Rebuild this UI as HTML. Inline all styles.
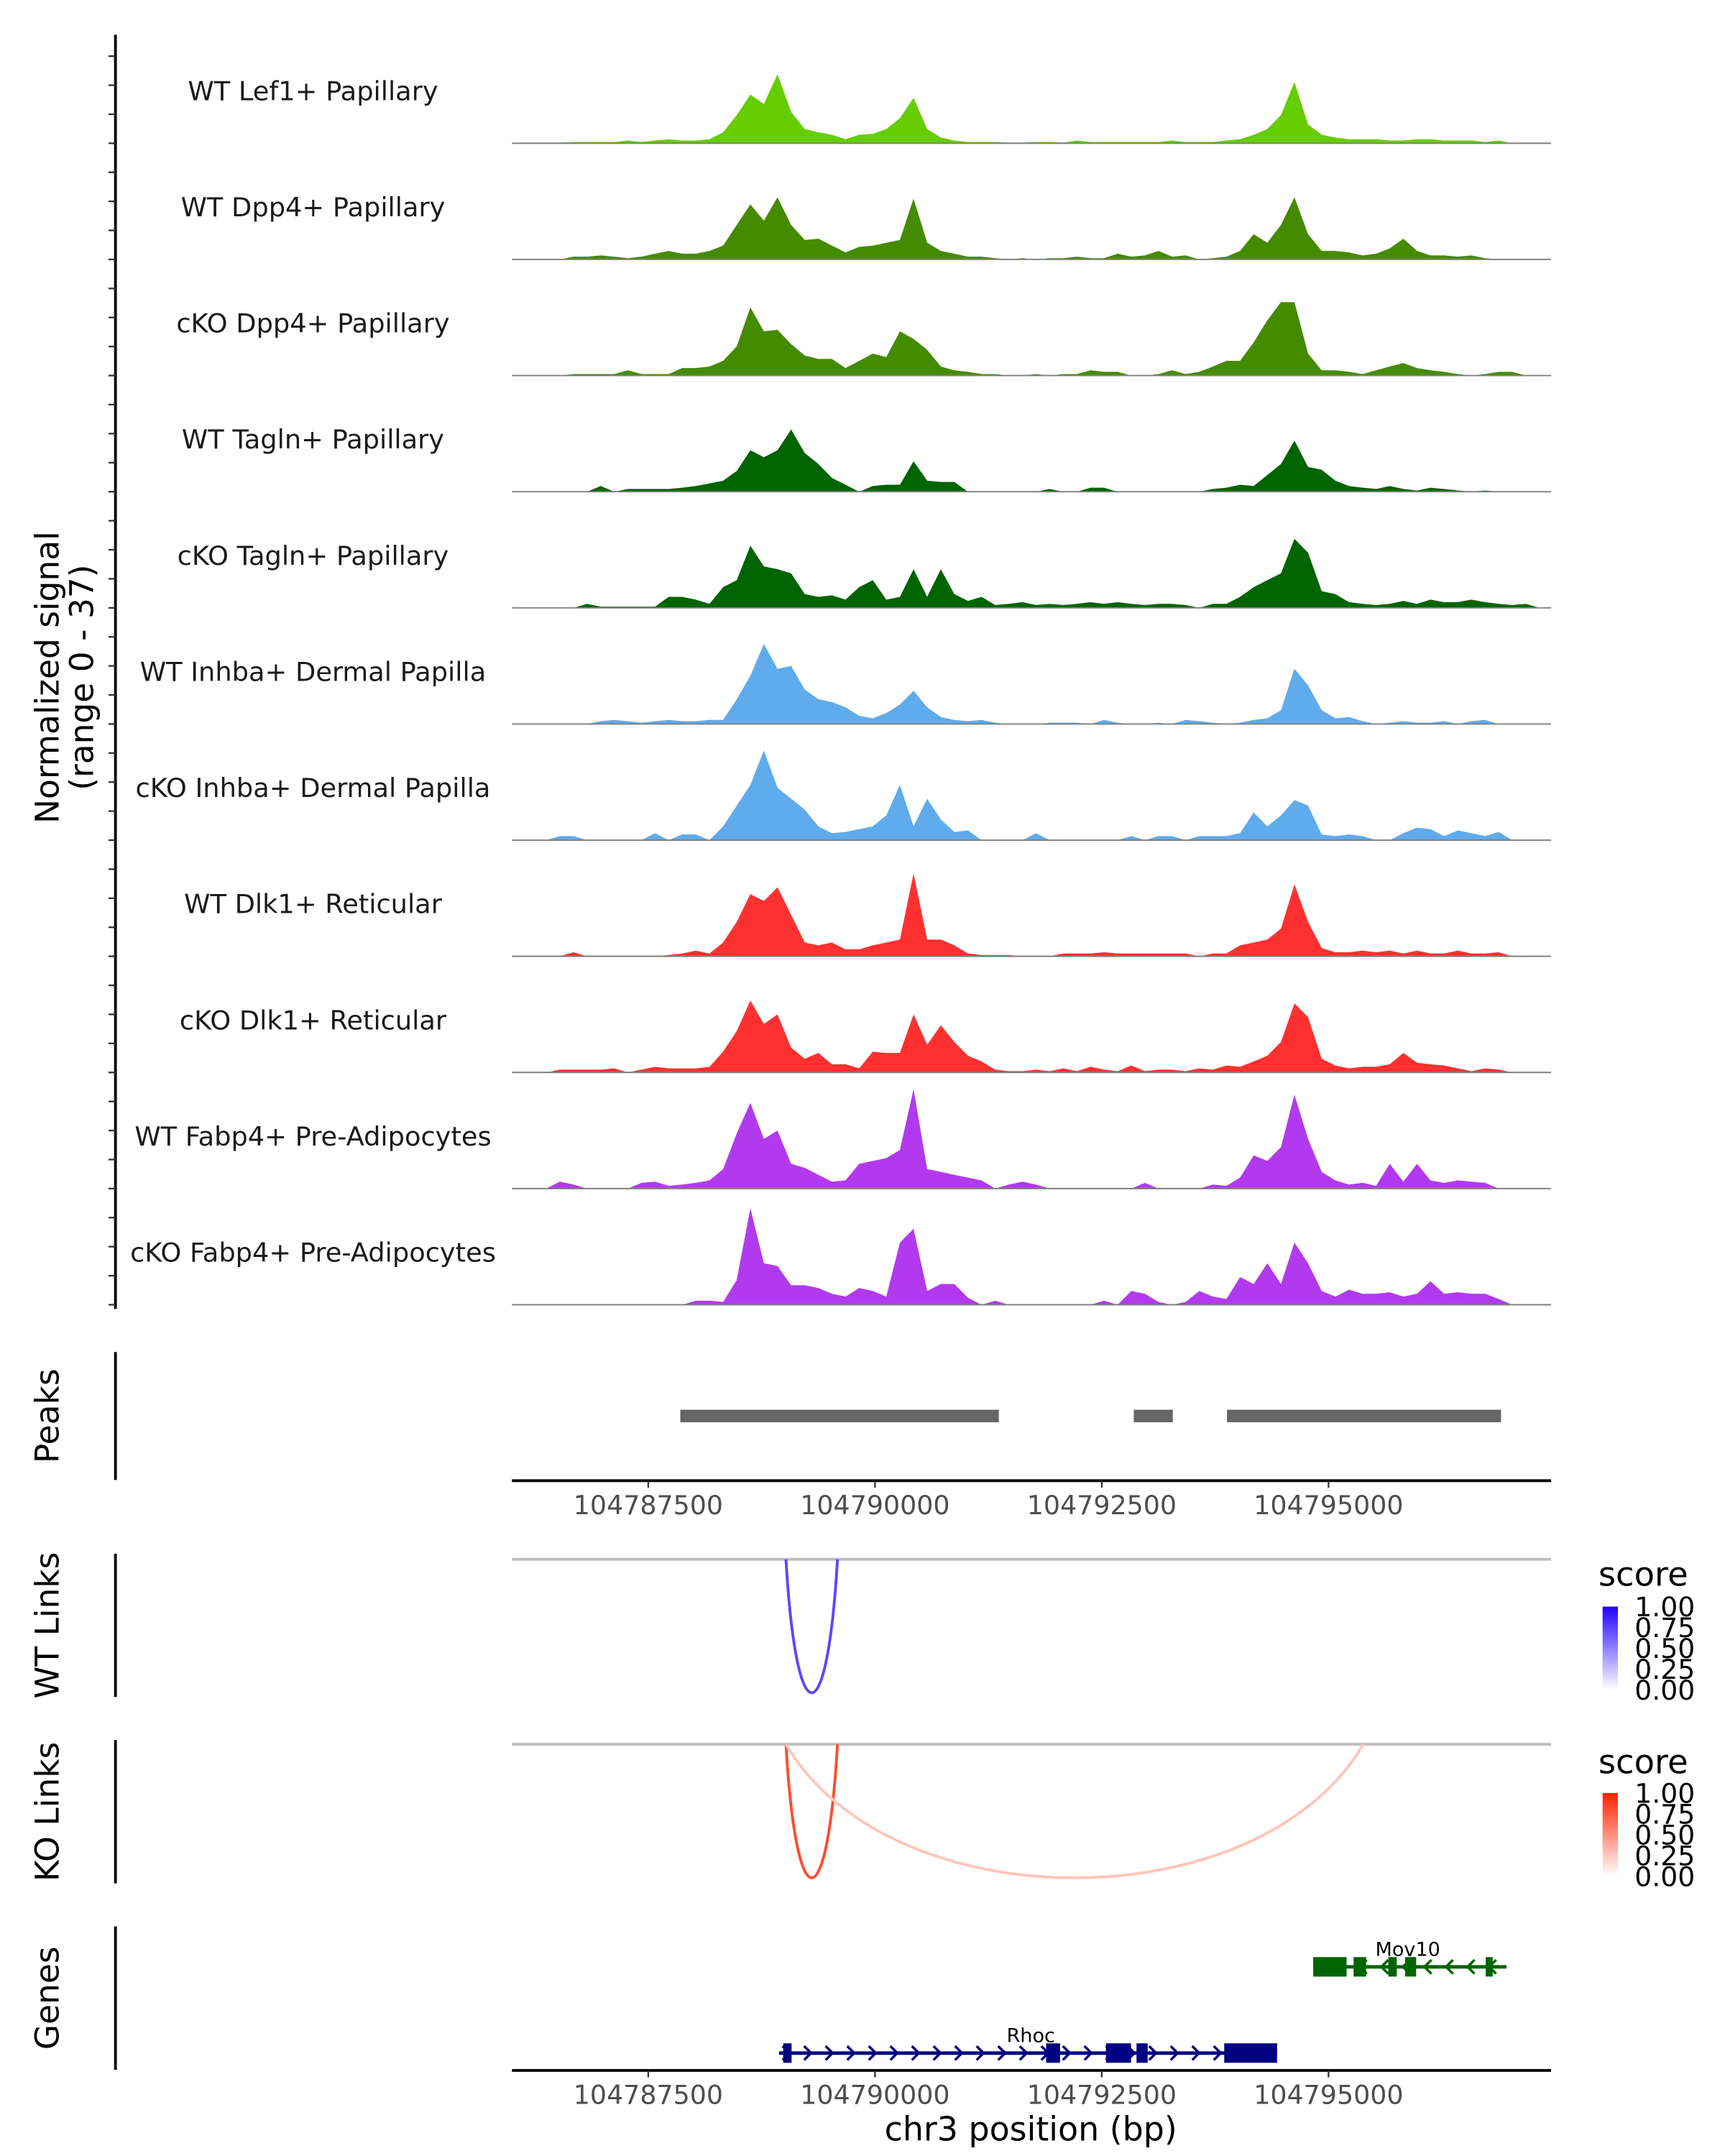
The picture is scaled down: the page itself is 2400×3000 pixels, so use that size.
<!DOCTYPE html>
<html><head><meta charset="utf-8">
<style>
html,body{margin:0;padding:0;background:#fff;}
svg{display:block;font-family:"DejaVu Sans","Liberation Sans",sans-serif;}
</style></head>
<body>
<svg id="chart" xmlns="http://www.w3.org/2000/svg" width="2400" height="3000" viewBox="0 0 1240 1550">
<rect width="1240" height="1550" fill="#fff"/>
</svg>
<script>
// ---- data ----
const binStart = 104786000;
const binSize = 150;
const trackNames = ["WT Lef1+ Papillary","WT Dpp4+ Papillary","cKO Dpp4+ Papillary","WT Tagln+ Papillary","cKO Tagln+ Papillary","WT Inhba+ Dermal Papilla","cKO Inhba+ Dermal Papilla","WT Dlk1+ Reticular","cKO Dlk1+ Reticular","WT Fabp4+ Pre-Adipocytes","cKO Fabp4+ Pre-Adipocytes"];
const trackColors = ["#66cd00","#458b00","#458b00","#006400","#006400","#5fabec","#5fabec","#ff3030","#ff3030","#b23aee","#b23aee"];
const sigWTLef1 = [0,0,0,0.2,0.4,0.4,0.4,0.4,0.9,0.4,0.9,1.3,0.9,0.9,1.3,3.5,9,15.5,12.5,22,10,4.5,3.5,2.7,1.3,2.7,3,4.5,8,14.5,4.5,1.8,0.9,0.4,0.4,0.4,0.2,0.2,0.4,0.4,0.2,0.9,0.4,0.4,0.4,0.4,0.4,0.4,0.9,0.4,0.4,0.4,0.9,1.3,2.7,4.5,9,19.5,6,2.7,1.8,1.3,1.3,1.3,0.9,0.9,1.3,1.3,0.9,0.9,0.9,0.4,0.9,0,0,0];
const sigWTDpp4 = [0,0,0,0,0.9,0.9,1.3,0.9,0.4,0.9,1.8,2.7,1.8,1.8,2.7,4.4,11,17.5,12.3,19.8,11,6.2,6.6,4.4,2.2,4,4.4,5.3,6.2,19.4,5.3,2.7,1.8,0.9,0.9,0.4,0,0.4,0,0.4,0.4,0.9,0.4,0.4,1.8,0.9,1.3,2.7,0.9,1.3,0,0.4,0.9,2.7,8,5.3,11,19.8,8,2.7,2.7,2.2,1.3,1.8,3.5,6.6,2.7,1.3,1.3,0.9,1.3,0.4,0,0,0,0];
const sigKODpp4 = [0,0,0,0,0.5,0.5,0.5,0.5,1.7,0.5,0.5,0.5,2.4,2.4,2.9,4.7,9.3,21.7,14.1,14.6,10,6.4,5.3,5.3,2.4,4.7,7,5.9,14.1,11.7,8.2,2.9,1.7,1.2,0.5,0.5,0,0,0.5,0,0.5,0.5,1.7,1.2,1.2,0,0,0.5,1.7,0.5,1.2,2.9,4.7,4.7,10.6,17.6,23.4,23.4,7,1.7,1.7,1.2,0.5,1.7,2.9,4,2.4,1.7,1.2,0.5,0,0.5,1.2,1.2,0,0];
const sigWTTagln = [0,0,0,0,0,0,1.8,0,0.9,0.9,0.9,0.9,1.3,1.8,2.6,3.5,6.6,13.2,11,13.2,19.8,12.3,8.8,4.4,2.2,0,1.8,2.2,2.2,9.7,3.5,3.1,3.1,0,0,0,0,0,0,0.9,0,0,1.3,1.3,0,0,0,0,0,0,0,0.9,1.3,2.2,1.8,5.3,8.8,16.3,7.9,7,3.5,1.8,1.3,0.9,1.8,0.9,0.4,1.3,0.9,0.4,0,0.4,0,0,0,0];
const sigKOTagln = [0,0,0,0,0,1.3,0.4,0.4,0.4,0.4,0.4,3.5,3.5,2.6,1.3,6.6,8.8,19.8,13.2,12.3,11,4.4,3.5,4,2.6,6.6,8.8,2.6,3.5,12.3,3.5,12.3,4.4,2.2,3.5,0.9,1.3,1.8,0.9,1.3,0.9,1.3,1.8,1.3,1.8,1.3,0.9,1.3,1.3,0.9,0,1.3,1.3,3.5,6.6,8.8,11,22,17.6,5.3,4.4,1.8,1.3,0.9,1.3,2.2,1.3,2.6,1.8,1.8,2.6,1.8,1.3,0.9,1.3,0];
const sigWTInhba = [0,0,0,0,0,0,0.9,1.3,0.9,0.4,0.9,1.3,0.9,0.9,1.3,1.3,7.9,15.4,25.5,17.6,18.5,11,7.9,7,5.3,2.6,1.8,3.5,6.2,10.6,5.3,2.2,1.3,0.9,1.3,0.4,0,0,0,0.4,0.4,0.4,0,1.3,0.4,0,0,0.4,0,1.3,0.9,0.4,0,0.4,1.3,1.8,4.4,17.6,12.3,4.4,1.8,2.2,0.9,0,0.4,0.9,0.4,0.4,0.9,0,0.9,1.3,0,0,0,0];
const sigKOInhba = [0,0,0,1.3,1.3,0,0,0,0,0,2.2,0,1.8,1.8,0,4.4,11,17.6,28.6,16.7,13.2,9.7,4.4,2.2,2.6,3.5,4.4,7.9,17.6,4.4,13.2,6.6,2.6,3.1,0,0,0,0,2.2,0,0,0,0,0,0,1.3,0,1.3,1.3,0,1.3,1.3,1.3,2.2,8.8,4.4,7.9,12.8,11,1.8,1.3,1.8,1.3,0,0,2.2,4,3.5,1.3,3.1,2.2,1.3,2.6,0,0,0];
const sigWTDlk1 = [0,0,0,0,1.3,0,0,0,0,0,0,0.4,0.9,1.8,0.9,4.4,11,19.8,17.6,22,13.2,4.4,3.5,4.4,2.2,2.2,3.5,4.4,5.3,26.4,5.3,5.3,3.5,0.9,0.4,0.4,0.4,0,0,0,0.9,0.9,0.9,1.3,0.9,0.9,0.9,0.9,0.9,0.9,0,0.9,0.9,3.5,4.4,5.3,8.8,22.9,11,2.6,1.3,1.3,1.8,1.3,1.8,0.9,1.8,0.9,0.9,1.8,0.9,0.9,1.3,0,0,0];
const sigKODlk1 = [0,0,0,0.9,0.9,0.9,0.9,1.3,0,0.9,1.8,1.3,1.3,1.3,1.8,6.6,13.2,22.9,15.4,18.5,7.9,4.4,6.2,2.6,2.6,1.3,6.6,6.2,6.2,18.5,8.8,15,9.7,5.3,3.5,0.9,0.4,0.4,0.9,0.4,1.3,0.4,1.8,0.9,0.4,2.2,0.4,0.9,0.9,0.4,1.3,0.9,2.2,1.8,3.5,5.3,9.7,22,17.6,4.4,2.2,1.3,1.8,1.8,2.6,6.2,3.1,2.6,2.2,1.3,0.4,1.3,0.9,0,0,0];
const sigWTFabp4 = [0,0,0,2.2,1.3,0,0,0,0,1.8,2.2,0.9,1.3,1.8,2.6,6.2,17.6,27.3,15.8,18.5,7.9,6.6,4.4,2.2,2.6,7.9,8.8,9.7,12.3,31.7,6.2,5.3,4.4,3.5,2.6,0,1.3,2.2,1.3,0,0,0,0,0,0,0,1.8,0,0,0,0,1.3,0.9,3.5,10.6,8.8,13.2,29.9,15.8,5.3,2.6,1.3,1.8,0.9,7.9,2.2,7.9,2.6,1.8,2.6,2.2,1.8,0,0,0,0];
const sigKOFabp4 = [0,0,0,0,0,0,0,0,0,0,0,0,0,1.3,1.3,0.9,7.9,30.8,13.2,12.3,6.2,6.2,5.3,3.5,2.6,5.3,4.4,2.6,19.8,24.2,4.4,6.6,6.6,2.2,0,1.3,0,0,0,0,0,0,0,1.3,0,4.4,3.5,0.9,0,0.9,4.4,2.6,1.8,8.8,6.6,13.2,6.6,19.8,13.2,4.4,2.6,4.8,3.5,3.5,4,2.6,3.5,7.5,3.5,4,3.5,3.5,1.8,0,0,0];
const signals = [sigWTLef1,sigWTDpp4,sigKODpp4,sigWTTagln,sigKOTagln,sigWTInhba,sigKOInhba,sigWTDlk1,sigKODlk1,sigWTFabp4,sigKOFabp4];
const signalMax = 37;
const xTicks = [104787500,104790000,104792500,104795000];
const peakStarts = [104787853,104792853,104793880];
const peakEnds = [104791365,104793283,104796902];
const wtLinkStarts = [104789018];
const wtLinkEnds = [104789586];
const wtLinkScores = [0.8];
const koLinkStarts = [104789018,104789018];
const koLinkEnds = [104789586,104795383];
const koLinkScores = [0.8,0.2];
const legendTicks = ["1.00","0.75","0.50","0.25","0.00"];
const rhocExonStarts = [104788988,104791887,104792546,104792883,104793850];
const rhocExonEnds = [104789080,104792040,104792822,104793006,104794433];
const mov10ExonStarts = [104794831,104795276,104795659,104795844,104796733];
const mov10ExonEnds = [104795199,104795414,104795752,104795966,104796810];

// ---- helpers ----
const svg = document.getElementById('chart');
const NS = 'http://www.w3.org/2000/svg';
function mk(tag, attrs, parent){const e=document.createElementNS(NS,tag);for(const k in attrs)e.setAttribute(k,attrs[k]);(parent||svg).appendChild(e);return e;}
const X0=368, X1=1115;
function xs(p){return 466+(p-104787500)*163/2500;}
const trackH=83.5, firstBase=103;
function ys(v,base){return base - v/signalMax*trackH;}

// ---- y axis for tracks ----
let ax=mk('line',{x1:83,y1:25,x2:83,y2:941,stroke:'#000','stroke-width':2});


for(let t=0;t<11;t++){
  const base=firstBase+t*trackH;
  for(let k=0;k<4;k++){
    const y=base-k*trackH/4;
    const tk=mk('line',{x1:78,y1:y,x2:83,y2:y,stroke:'#333','stroke-width':1.2});
    
    
  }
}
let yt=mk('text',{transform:'translate(42,487) rotate(-90)','text-anchor':'middle','font-size':23.5,fill:'#000'});


yt.textContent='Normalized signal';
let yt2=mk('text',{transform:'translate(67,487) rotate(-90)','text-anchor':'middle','font-size':23.5,fill:'#000'});


yt2.textContent='(range 0 - 37)';

// ---- tracks ----
for(let t=0;t<11;t++){
  const base=firstBase+t*trackH;
  const vals=signals[t];
  let d='M'+xs(binStart)+','+base;
  for(let i=0;i<vals.length;i++){
    d+=' L'+xs(binStart+binSize*(i+0.5)).toFixed(1)+','+ys(vals[i],base).toFixed(1);
  }
  d+=' L'+xs(binStart+binSize*vals.length).toFixed(1)+','+base+' Z';
  const p=mk('path',{d:d,fill:trackColors[t]});
  
  
  const bl=mk('line',{x1:X0,y1:base,x2:X1,y2:base,stroke:'#808080','stroke-width':1});
  
  
  const lb=mk('text',{x:225,y:base-31,'text-anchor':'middle','font-size':19,fill:'#1a1a1a'});
  
  
  lb.textContent=trackNames[t];
}

// ---- panel titles and axis lines ----
function panel(title,y1,y2,name){
  const l=mk('line',{x1:83,y1:y1,x2:83,y2:y2,stroke:'#000','stroke-width':2});
  
  
  const tx=mk('text',{transform:'translate(42,'+((y1+y2)/2)+') rotate(-90)','text-anchor':'middle','font-size':23.5,fill:'#000'});
  
  
  tx.textContent=title;
}
panel('Peaks',972,1064,'peaks');
panel('WT Links',1117,1220,'wt-links');
panel('KO Links',1251,1354,'ko-links');
panel('Genes',1385,1488,'genes');

// ---- peaks ----
for(let i=0;i<peakStarts.length;i++){
  const r=mk('rect',{x:xs(peakStarts[i]),y:1013.5,width:xs(peakEnds[i])-xs(peakStarts[i]),height:9,fill:'#666666'});
  
  
}
function xAxis(y,name){
  const l=mk('line',{x1:X0,y1:y,x2:X1,y2:y,stroke:'#000','stroke-width':2});
  
  
  for(const t of xTicks){
    const tk=mk('line',{x1:xs(t),y1:y,x2:xs(t),y2:y+5,stroke:'#333','stroke-width':1.2});
    
    
    const tl=mk('text',{x:xs(t),y:y+24,'text-anchor':'middle','font-size':18.8,fill:'#4d4d4d'});
    
    
    tl.textContent=String(t);
  }
}
xAxis(1064.5,'peaks-x-axis');

// ---- links ----
function links(starts,ends,scores,top,hue,name){
  const g=mk('line',{x1:X0,y1:top,x2:X1,y2:top,stroke:'#bebebe','stroke-width':2});
  
  
  for(let i=0;i<starts.length;i++){
    const a=xs(starts[i]), b=xs(ends[i]), c=top+128;
    const w=b-a, ca=a+Math.min(w*0.2,75), cb=b-Math.min(w*0.2,75);
    const tt=0.08+0.91*scores[i];
    const col= hue==='blue' ? 'rgb('+Math.round(255-200*tt)+','+Math.round(255-230*tt)+',255)' : 'rgb(255,'+Math.round(255-223*tt)+','+Math.round(255-255*tt)+')';
    const p=mk('path',{d:'M'+a+','+top+' C'+ca+','+c+' '+cb+','+c+' '+b+','+top,fill:'none',stroke:col,'stroke-width':2});
    
    
  }
}
links(wtLinkStarts,wtLinkEnds,wtLinkScores,1121,'blue','wt-link');
links(koLinkStarts,koLinkEnds,koLinkScores,1254,'red','ko-link');

// ---- legends ----
function legend(y,top,name,id){
  const tt=mk('text',{x:1149,y:y,'font-size':24,fill:'#000'});
  
  
  tt.textContent='score';
  const bar=mk('rect',{x:1152,y:top,width:11,height:60,fill:'url(#'+id+')'});
  
  
  for(let i=0;i<legendTicks.length;i++){
    const lt=mk('text',{x:1175,y:top+7+i*15,'font-size':19.5,fill:'#000'});
    
    
    lt.textContent=legendTicks[i];
  }
}
const defs=mk('defs',{});
const gb=mk('linearGradient',{id:'gblue',x1:0,y1:0,x2:0,y2:1},defs);
mk('stop',{offset:0,'stop-color':'#2200ff'},gb);mk('stop',{offset:1,'stop-color':'#ffffff'},gb);
const gr=mk('linearGradient',{id:'gred',x1:0,y1:0,x2:0,y2:1},defs);
mk('stop',{offset:0,'stop-color':'#ff2000'},gr);mk('stop',{offset:1,'stop-color':'#ffffff'},gr);
legend(1140,1155,'wt-links','gblue');
legend(1275,1289,'ko-links','gred');

// ---- genes ----
function gene(label,y,x0p,x1p,es,ee,col,dir,labelX,name){
  const a=xs(x0p), b=xs(x1p);
  const l=mk('line',{x1:a,y1:y,x2:b,y2:y,stroke:col,'stroke-width':2.5});
  
  
  for(let x=a+5;x<b-2;x+=15.5){
    const d= dir>0 ? 'M'+(x-2.5)+','+(y-5)+' L'+(x+2.5)+','+y+' L'+(x-2.5)+','+(y+5) : 'M'+(x+2.5)+','+(y-5)+' L'+(x-2.5)+','+y+' L'+(x+2.5)+','+(y+5);
    const ar=mk('path',{d:d,fill:'none',stroke:col,'stroke-width':1.8});
    
    
  }
  for(let i=0;i<es.length;i++){
    const r=mk('rect',{x:xs(es[i]),y:y-7,width:Math.max(xs(ee[i])-xs(es[i]),3),height:14,fill:col});
    
    
  }
  const t=mk('text',{x:labelX,y:y-8,'text-anchor':'middle','font-size':14,fill:'#000'});
  
  
  t.textContent=label;
}
gene('Mov10',1414,104794831,104796963,mov10ExonStarts,mov10ExonEnds,'#006400',-1,1012,'mov10-gene');
gene('Rhoc',1476,104788942,104794433,rhocExonStarts,rhocExonEnds,'#000080',1,741,'rhoc-gene');

xAxis(1488.5,'x-axis');
const xt=mk('text',{x:741,y:1539,'text-anchor':'middle','font-size':23.7,fill:'#000'});


xt.textContent='chr3 position (bp)';
</script>
</body></html>
